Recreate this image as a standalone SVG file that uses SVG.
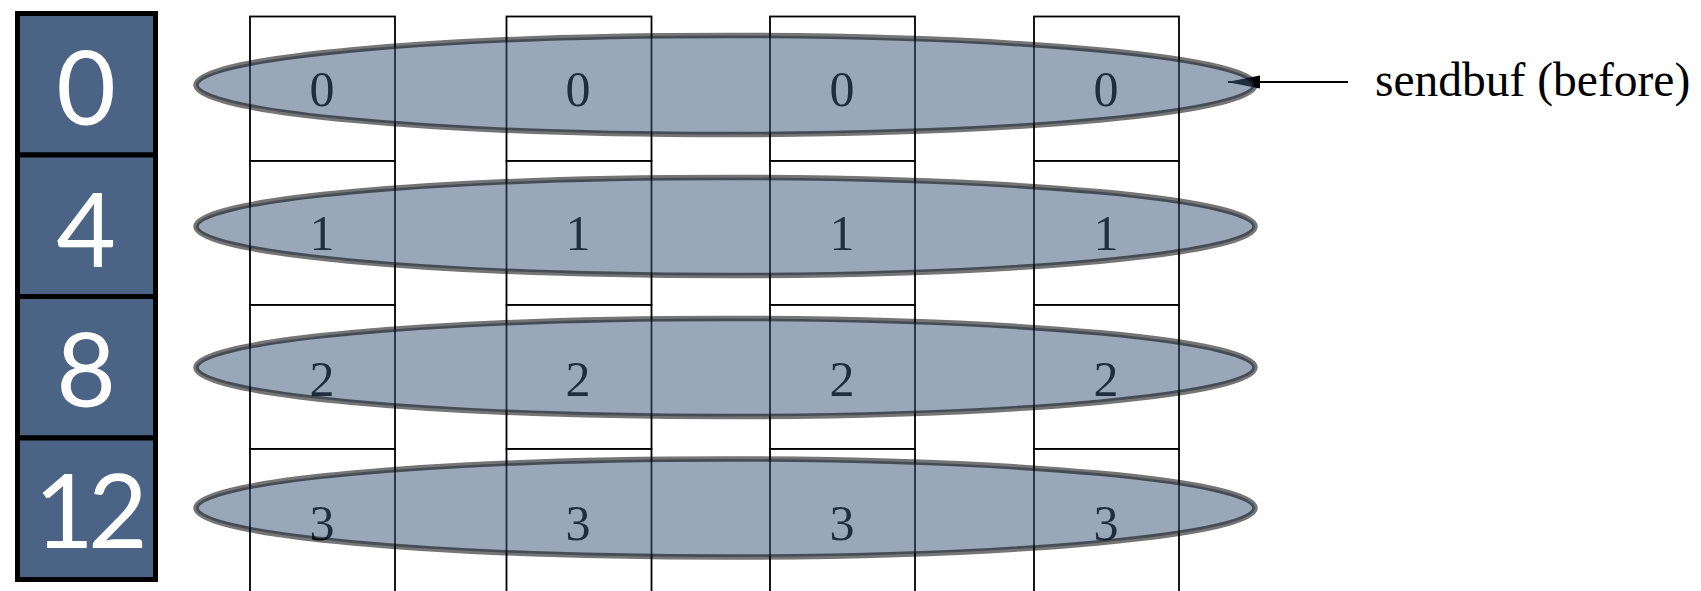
<svg xmlns="http://www.w3.org/2000/svg" width="1701" height="591" viewBox="0 0 1701 591">
<defs>
<style>
.box{fill:#4b6384;stroke:#000;stroke-width:5}
.bnum{font-family:Lato,"Open Sans",sans-serif;font-size:103px;fill:#fff;text-anchor:middle}
.cell{fill:#fff;stroke:#000;stroke-width:1.8}
.cnum{font-family:"Liberation Serif",serif;font-size:50px;fill:#000;text-anchor:middle}
.ell{fill:rgb(60,87,121);fill-opacity:0.52;stroke:#000;stroke-opacity:0.54;stroke-width:5.5}
.lbl{font-family:"Liberation Serif",serif;font-size:47.5px;fill:#000}
</style>
<marker id="ah" markerWidth="34" markerHeight="16" refX="32" refY="8" orient="auto" markerUnits="userSpaceOnUse">
<path d="M33,8 L0,1.5 L0,14.5 Z" fill="#000"/>
</marker>
</defs>
<rect width="1701" height="591" fill="#fff"/>
<g id="offsets">
<g id="off0"><rect class="box" x="17.5" y="13.5" width="138" height="141.5"/><text class="bnum" x="86" y="125">0</text></g>
<g id="off4"><rect class="box" x="17.5" y="155" width="138" height="141.5"/><text class="bnum" x="86" y="267">4</text></g>
<g id="off8"><rect class="box" x="17.5" y="296.5" width="138" height="141.5"/><text class="bnum" x="86" y="407">8</text></g>
<g id="off12"><rect class="box" x="17.5" y="438" width="138" height="141.5"/><text class="bnum" x="88" y="548" letter-spacing="-6">12</text></g>
</g>
<g id="columns">
<g id="col1">
<rect class="cell" x="250" y="16.5" width="145" height="144.5"/><rect class="cell" x="250" y="161" width="145" height="144"/><rect class="cell" x="250" y="305" width="145" height="144"/><rect class="cell" x="250" y="449" width="145" height="150"/>
<text class="cnum" x="322" y="106">0</text><text class="cnum" x="322" y="250">1</text><text class="cnum" x="322" y="396">2</text><text class="cnum" x="322" y="540">3</text>
</g>
<g id="col2">
<rect class="cell" x="506.5" y="16.5" width="145" height="144.5"/><rect class="cell" x="506.5" y="161" width="145" height="144"/><rect class="cell" x="506.5" y="305" width="145" height="144"/><rect class="cell" x="506.5" y="449" width="145" height="150"/>
<text class="cnum" x="578" y="106">0</text><text class="cnum" x="578" y="250">1</text><text class="cnum" x="578" y="396">2</text><text class="cnum" x="578" y="540">3</text>
</g>
<g id="col3">
<rect class="cell" x="770" y="16.5" width="145" height="144.5"/><rect class="cell" x="770" y="161" width="145" height="144"/><rect class="cell" x="770" y="305" width="145" height="144"/><rect class="cell" x="770" y="449" width="145" height="150"/>
<text class="cnum" x="842" y="106">0</text><text class="cnum" x="842" y="250">1</text><text class="cnum" x="842" y="396">2</text><text class="cnum" x="842" y="540">3</text>
</g>
<g id="col4">
<rect class="cell" x="1034" y="16.5" width="145" height="144.5"/><rect class="cell" x="1034" y="161" width="145" height="144"/><rect class="cell" x="1034" y="305" width="145" height="144"/><rect class="cell" x="1034" y="449" width="145" height="150"/>
<text class="cnum" x="1106" y="106">0</text><text class="cnum" x="1106" y="250">1</text><text class="cnum" x="1106" y="396">2</text><text class="cnum" x="1106" y="540">3</text>
</g>
</g>
<g id="connectors">
<line x1="1348" y1="82" x2="1228" y2="82" stroke="#000" stroke-width="2" marker-end="url(#ah)"/>
</g>
<g id="rows">
<ellipse id="row0" class="ell" cx="725.5" cy="85" rx="529.5" ry="49.5"/>
<ellipse id="row1" class="ell" cx="725.5" cy="226.5" rx="529.5" ry="49"/>
<ellipse id="row2" class="ell" cx="725.5" cy="367.5" rx="529.5" ry="49"/>
<ellipse id="row3" class="ell" cx="725.5" cy="508" rx="529.5" ry="49"/>
</g>
<g id="label">
<text class="lbl" x="1375" y="96">sendbuf (before)</text>
</g>
</svg>
